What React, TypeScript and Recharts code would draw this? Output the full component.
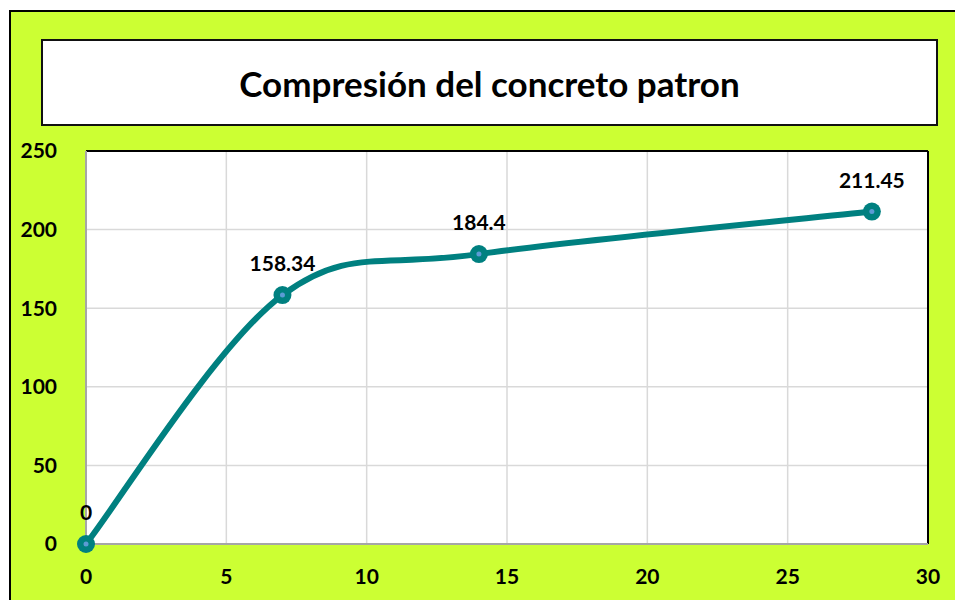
import { LineChart, Line, XAxis, YAxis, CartesianGrid, LabelList, ReferenceLine } from 'recharts';

const days = [0, 7, 14, 28];
const strength = [0, 158.34, 184.4, 211.45];
const xTicks = [0, 5, 10, 15, 20, 25, 30];
const yTicks = [0, 50, 100, 150, 200, 250];

const TEAL = '#008080';
const FONT = 'Lato, "Open Sans", sans-serif';

const data = days.map((d, i) => ({ day: d, value: strength[i] }));

// Spreadsheet-style smoothed line (Catmull-Rom as cubic beziers)
const smoothCurve = (context: any) => {
  let pts: [number, number][] = [];
  return {
    areaStart() {},
    areaEnd() {},
    lineStart() {
      pts = [];
    },
    point(x: number, y: number) {
      pts.push([+x, +y]);
    },
    lineEnd() {
      if (!pts.length) return;
      context.moveTo(pts[0][0], pts[0][1]);
      for (let i = 0; i < pts.length - 1; i++) {
        const p0 = pts[Math.max(i - 1, 0)];
        const p1 = pts[i];
        const p2 = pts[i + 1];
        const p3 = pts[Math.min(i + 2, pts.length - 1)];
        context.bezierCurveTo(
          p1[0] + (p2[0] - p0[0]) / 6,
          p1[1] + (p2[1] - p0[1]) / 6,
          p2[0] - (p3[0] - p1[0]) / 6,
          p2[1] - (p3[1] - p1[1]) / 6,
          p2[0],
          p2[1]
        );
      }
    },
  };
};

function Marker(props: any) {
  const { cx, cy } = props;
  if (cx == null || cy == null) return null;
  return (
    <g>
      <circle cx={cx} cy={cy} r={9} fill={TEAL} />
      <circle cx={cx} cy={cy} r={2.5} fill="#5B9BD5" />
    </g>
  );
}

const tickStyle = { fill: '#000', fontSize: 21, fontWeight: 700, fontFamily: FONT };

export default function App() {
  return (
    <div style={{ position: 'fixed', left: 0, top: 0, width: 955, height: 600, background: '#fff', overflow: 'hidden' }}>
      <div
        style={{
          position: 'absolute',
          left: 9,
          top: 10,
          width: 980,
          height: 620,
          background: '#CCFF33',
          border: '2px solid #000',
        }}
      />
      <div
        style={{
          position: 'absolute',
          left: 41,
          top: 39,
          width: 893,
          height: 83,
          background: '#fff',
          border: '2.5px solid #111',
          display: 'flex',
          alignItems: 'center',
          justifyContent: 'center',
          fontFamily: FONT,
          fontWeight: 700,
          fontSize: 35,
          color: '#000',
        }}
      >
        Compresión del concreto patron
      </div>
      <div style={{ position: 'absolute', left: 0, top: 0 }}>
        <LineChart width={955} height={600} data={data} margin={{ top: 151, right: 27, left: 0, bottom: 0 }}>
          <CartesianGrid stroke="#D9D9D9" fill="#fff" strokeWidth={1.5} />
          <XAxis
            dataKey="day"
            type="number"
            domain={[0, 30]}
            ticks={xTicks}
            height={56}
            stroke="#A6A6A6"
            strokeWidth={2}
            tickLine={false}
            tickMargin={19}
            tick={tickStyle}
          />
          <YAxis
            type="number"
            domain={[0, 250]}
            ticks={yTicks}
            width={86}
            stroke="#A6A6A6"
            strokeWidth={2}
            tickLine={false}
            tickMargin={23}
            tick={tickStyle}
          />
          <ReferenceLine y={250} stroke="#000" strokeWidth={2} />
          <ReferenceLine x={30} stroke="#000" strokeWidth={2} />
          <Line
            dataKey="value"
            type={smoothCurve as any}
            stroke={TEAL}
            strokeWidth={6}
            dot={<Marker />}
            activeDot={false}
            isAnimationActive={false}
          >
            <LabelList dataKey="value" position="top" offset={24} style={tickStyle} />
          </Line>
        </LineChart>
      </div>
    </div>
  );
}
